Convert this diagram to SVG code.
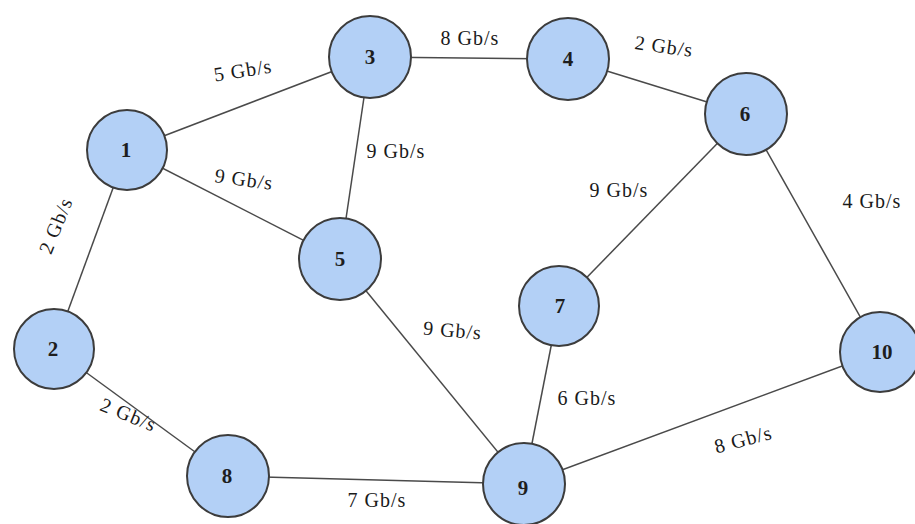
<svg xmlns="http://www.w3.org/2000/svg" width="915" height="524" viewBox="0 0 915 524">
<style>
.edge{stroke:#4a4a4a;stroke-width:1.5;fill:none}
.node{fill:#b3d0f6;stroke:#3c3c3c;stroke-width:2}
.num{font-family:"Liberation Serif",serif;font-weight:bold;font-size:21px;fill:#1e1e1e;text-anchor:middle}
.lbl{font-family:"Liberation Serif",serif;font-size:20px;fill:#1a1a1a;text-anchor:middle;letter-spacing:1px}
</style>
<rect width="915" height="524" fill="#ffffff"/>
<g id="connectors">
<line class="edge" x1="127" y1="150" x2="370" y2="57"/>
<line class="edge" x1="370" y1="57" x2="568" y2="59"/>
<line class="edge" x1="568" y1="59" x2="746" y2="114"/>
<line class="edge" x1="370" y1="57" x2="340" y2="259"/>
<line class="edge" x1="127" y1="150" x2="340" y2="259"/>
<line class="edge" x1="127" y1="150" x2="54" y2="349"/>
<line class="edge" x1="746" y1="114" x2="559" y2="306"/>
<line class="edge" x1="746" y1="114" x2="880" y2="352"/>
<line class="edge" x1="340" y1="259" x2="524" y2="484"/>
<line class="edge" x1="559" y1="306" x2="524" y2="484"/>
<line class="edge" x1="54" y1="349" x2="228" y2="476"/>
<line class="edge" x1="228" y1="476" x2="524" y2="484"/>
<line class="edge" x1="524" y1="484" x2="880" y2="352"/>
</g>
<g id="labels">
<text class="lbl" transform="translate(244,77) rotate(-9)">5 Gb/s</text>
<text class="lbl" x="470" y="45">8 Gb/s</text>
<text class="lbl" transform="translate(663,53) rotate(8)">2 Gb/s</text>
<text class="lbl" x="396" y="158">9 Gb/s</text>
<text class="lbl" transform="translate(243,186) rotate(8)">9 Gb/s</text>
<text class="lbl" transform="translate(62,228) rotate(-68)">2 Gb/s</text>
<text class="lbl" x="619" y="197">9 Gb/s</text>
<text class="lbl" x="872" y="208">4 Gb/s</text>
<text class="lbl" transform="translate(452,337) rotate(5)">9 Gb/s</text>
<text class="lbl" x="587" y="405">6 Gb/s</text>
<text class="lbl" transform="translate(126,421) rotate(22)">2 Gb/s</text>
<text class="lbl" x="377" y="507">7 Gb/s</text>
<text class="lbl" transform="translate(745,446) rotate(-15)">8 Gb/s</text>
</g>
<g id="node1"><circle class="node" cx="127" cy="150" r="40"/><text class="num" x="126" y="157">1</text></g>
<g id="node2"><circle class="node" cx="54" cy="349" r="40"/><text class="num" x="53" y="356">2</text></g>
<g id="node3"><circle class="node" cx="370" cy="57" r="41"/><text class="num" x="370" y="64">3</text></g>
<g id="node4"><circle class="node" cx="568" cy="59" r="41"/><text class="num" x="568" y="66">4</text></g>
<g id="node5"><circle class="node" cx="340" cy="259" r="41"/><text class="num" x="340" y="266">5</text></g>
<g id="node6"><circle class="node" cx="746" cy="114" r="41"/><text class="num" x="745" y="121">6</text></g>
<g id="node7"><circle class="node" cx="559" cy="306" r="40"/><text class="num" x="560" y="313">7</text></g>
<g id="node8"><circle class="node" cx="228" cy="476" r="41"/><text class="num" x="227" y="483">8</text></g>
<g id="node9"><circle class="node" cx="524" cy="484" r="41"/><text class="num" x="523" y="495">9</text></g>
<g id="node10"><circle class="node" cx="880" cy="352" r="40"/><text class="num" x="882" y="359">10</text></g>
</svg>
